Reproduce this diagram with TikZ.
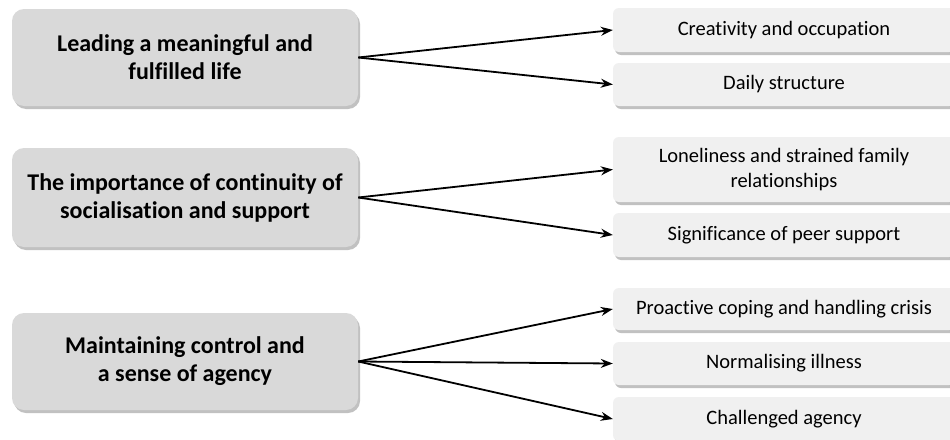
\documentclass[tikz,border=0pt]{standalone}
\usepackage{fontspec}
\setmainfont[Ligatures=NoCommon]{Carlito}
\usetikzlibrary{shadows,arrows.meta}
\definecolor{themebox}{HTML}{D9D9D9}
\definecolor{subbox}{HTML}{F0F0F0}
\begin{document}
\begin{tikzpicture}[x=1pt,y=-1pt,
  themenode/.style={fill=themebox, rounded corners=12pt, minimum width=346pt, minimum height=97pt,
    align=center, font=\fontsize{24}{28}\selectfont\bfseries, inner sep=0pt,
    drop shadow={shadow xshift=2pt, shadow yshift=-3pt, opacity=0.4, fill=black!60}},
  subnode/.style={fill=subbox, rounded corners=6pt, minimum width=342pt,
    align=center, font=\fontsize{20.5}{25}\selectfont, inner sep=0pt,
    drop shadow={shadow xshift=2pt, shadow yshift=-3pt, opacity=0.4, fill=black!60}},
  arr/.style={-{Stealth[length=12pt,width=9pt]}, line width=1.8pt, black}]
\useasboundingbox (0,0) rectangle (950,439);
\fill[white] (0,0) rectangle (950,439);
\node[themenode] (t1) at (185,57.5) {Leading a meaningful and\\fulfilled life};
\node[themenode, minimum height=99pt] (t2) at (185,197.5) {The importance of continuity of\\socialisation and support};
\node[themenode] (t3) at (185,361.5) {Maintaining control and\\a sense of agency};
\node[subnode, minimum height=44pt] (s1) at (784,30) {Creativity and occupation};
\node[subnode, minimum height=43pt] (s2) at (784,84.5) {Daily structure};
\node[subnode, minimum height=65pt] (s3) at (784,169.5) {Loneliness and strained family\\relationships};
\node[subnode, minimum height=44pt] (s4) at (784,235) {Significance of peer support};
\node[subnode, minimum height=42pt] (s5) at (784,309) {Proactive coping and handling crisis};
\node[subnode, minimum height=43pt] (s6) at (784,363.5) {Normalising illness};
\node[subnode, minimum height=44pt] (s7) at (784,419) {Challenged agency};
\draw[arr] (t1.east) -- (s1.west);
\draw[arr] (t1.east) -- (s2.west);
\draw[arr] (t2.east) -- (s3.west);
\draw[arr] (t2.east) -- (s4.west);
\draw[arr] (t3.east) -- (s5.west);
\draw[arr] (t3.east) -- (s6.west);
\draw[arr] (t3.east) -- (s7.west);
\end{tikzpicture}
\end{document}
